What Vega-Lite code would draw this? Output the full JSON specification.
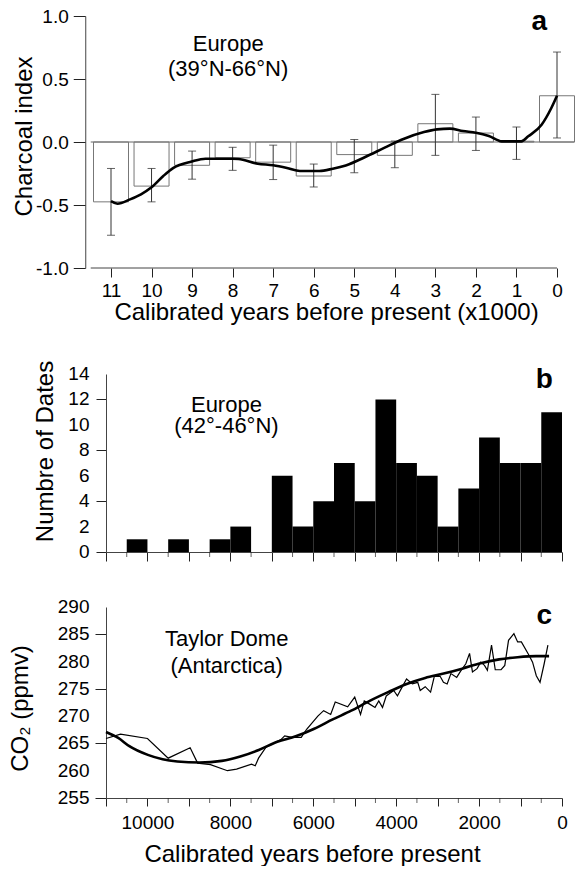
{
  "$schema": "https://vega.github.io/schema/vega-lite/v6.json",
  "padding": {"left": 8, "top": 7, "right": 0, "bottom": 0},
  "spacing": 36,
  "config": {
    "view": {"stroke": null},
    "font": "Liberation Sans",
    "axis": {
      "grid": false,
      "labelFontSize": 19,
      "titleFontSize": 24,
      "titleFontWeight": "normal",
      "labelColor": "#000",
      "titleColor": "#000",
      "domainColor": "#444",
      "tickColor": "#222"
    },
    "text": {"font": "Liberation Sans", "color": "#000"}
  },
  "vconcat": [
    {
      "width": 456,
      "height": 252,
      "layer": [
        {
          "data": {"values": [{"x": 11.5, "x2": -0.43, "y": 0}]},
          "mark": {"type": "rule", "color": "#666", "strokeWidth": 1},
          "encoding": {
            "x": {
              "field": "x", "type": "quantitative",
              "title": "Calibrated years before present (x1000)",
              "scale": {"domain": [0, 11], "reverse": true, "nice": false, "zero": false},
              "axis": {
                "values": [0, 1, 2, 3, 4, 5, 6, 7, 8, 9, 10, 11],
                "format": "d", "domain": false, "tickSize": 9, "labelPadding": 4,
                "labelOverlap": false, "labelFlush": false,
                "titleX": 220, "titleY": 51, "titleBaseline": "alphabetic", "titleAlign": "center"
              }
            },
            "x2": {"field": "x2"},
            "y": {
              "field": "y", "type": "quantitative",
              "title": "Charcoal index",
              "scale": {"domain": [-1, 1], "nice": false, "zero": false},
              "axis": {
                "values": [-1, -0.5, 0, 0.5, 1],
                "labelExpr": "datum.value < 0 ? '-' + format(-datum.value, '.1f') : format(datum.value, '.1f')",
                "offset": 20.75, "tickSize": 12, "labelPadding": 5,
                "labelOverlap": false, "labelFlush": false,
                "titleX": -54, "titleY": 120,
                "titleAngle": 270, "titleBaseline": "alphabetic", "titleAlign": "center"
              }
            }
          }
        },
        {
          "data": {"values": [{"x": 11.5, "x2": 0, "y": -1}]},
          "mark": {"type": "rule", "color": "#444", "strokeWidth": 1},
          "encoding": {
            "x": {"field": "x", "type": "quantitative", "title": "Calibrated years before present (x1000)"},
            "x2": {"field": "x2"},
            "y": {"field": "y", "type": "quantitative", "title": "Charcoal index"}
          }
        },
        {
          "data": {"values": [
            {"x": 11, "y": -0.475, "lo": -0.74, "hi": -0.21},
            {"x": 10, "y": -0.35, "lo": -0.475, "hi": -0.21},
            {"x": 9, "y": -0.185, "lo": -0.295, "hi": -0.072},
            {"x": 8, "y": -0.125, "lo": -0.225, "hi": -0.042},
            {"x": 7, "y": -0.16, "lo": -0.298, "hi": -0.025},
            {"x": 6, "y": -0.27, "lo": -0.357, "hi": -0.175},
            {"x": 5, "y": -0.1, "lo": -0.244, "hi": 0.02},
            {"x": 4, "y": -0.106, "lo": -0.204, "hi": 0.008},
            {"x": 3, "y": 0.145, "lo": -0.106, "hi": 0.378},
            {"x": 2, "y": 0.071, "lo": -0.067, "hi": 0.198},
            {"x": 1, "y": 0.006, "lo": -0.138, "hi": 0.119},
            {"x": 0, "y": 0.367, "lo": 0.032, "hi": 0.714}
          ]},
          "layer": [
            {
              "mark": {"type": "bar", "width": 35, "fillOpacity": 0, "stroke": "#777", "strokeWidth": 1},
              "encoding": {
                "x": {"field": "x", "type": "quantitative", "title": "Calibrated years before present (x1000)"},
                "y": {"field": "y", "type": "quantitative", "title": "Charcoal index"},
                "y2": {"datum": 0}
              }
            },
            {
              "mark": {"type": "errorbar", "ticks": {"size": 8, "color": "#222"}, "rule": {"color": "#333"}},
              "encoding": {
                "x": {"field": "x", "type": "quantitative", "title": "Calibrated years before present (x1000)"},
                "y": {"field": "lo", "type": "quantitative", "title": "Charcoal index"},
                "y2": {"field": "hi"}
              }
            }
          ]
        },
        {
          "data": {"values": [
            {"x": 11.0, "y": -0.47}, {"x": 10.84, "y": -0.49}, {"x": 10.53, "y": -0.455},
            {"x": 10.26, "y": -0.415}, {"x": 10.0, "y": -0.36}, {"x": 9.71, "y": -0.27},
            {"x": 9.46, "y": -0.205}, {"x": 9.01, "y": -0.155}, {"x": 8.67, "y": -0.133},
            {"x": 8.0, "y": -0.133}, {"x": 7.86, "y": -0.135}, {"x": 7.38, "y": -0.172},
            {"x": 7.0, "y": -0.185}, {"x": 6.66, "y": -0.206}, {"x": 6.34, "y": -0.23},
            {"x": 5.86, "y": -0.23}, {"x": 5.53, "y": -0.212}, {"x": 5.21, "y": -0.186},
            {"x": 4.73, "y": -0.119}, {"x": 4.25, "y": -0.045}, {"x": 3.77, "y": 0.026},
            {"x": 3.28, "y": 0.079}, {"x": 2.96, "y": 0.1}, {"x": 2.64, "y": 0.106},
            {"x": 2.32, "y": 0.087}, {"x": 2.0, "y": 0.074}, {"x": 1.68, "y": 0.048},
            {"x": 1.36, "y": 0.005}, {"x": 0.88, "y": 0.005}, {"x": 0.71, "y": 0.045},
            {"x": 0.38, "y": 0.137}, {"x": 0.14, "y": 0.27}, {"x": 0.0, "y": 0.367}
          ]},
          "mark": {"type": "line", "color": "#000", "strokeWidth": 2.6, "interpolate": "monotone"},
          "encoding": {
            "x": {"field": "x", "type": "quantitative", "title": "Calibrated years before present (x1000)"},
            "y": {"field": "y", "type": "quantitative", "title": "Charcoal index"}
          }
        },
        {
          "data": {"values": [
            {"x": 8.11, "y": 0.725, "label": "Europe"},
            {"x": 8.11, "y": 0.52, "label": "(39°N-66°N)"}
          ]},
          "mark": {"type": "text", "fontSize": 22, "align": "center", "baseline": "alphabetic"},
          "encoding": {
            "x": {"field": "x", "type": "quantitative", "title": "Calibrated years before present (x1000)"},
            "y": {"field": "y", "type": "quantitative", "title": "Charcoal index"},
            "text": {"field": "label"}
          }
        },
        {
          "data": {"values": [{"x": 0.44, "y": 0.886, "label": "a"}]},
          "mark": {"type": "text", "fontSize": 28, "fontWeight": "bold", "align": "center", "baseline": "alphabetic"},
          "encoding": {
            "x": {"field": "x", "type": "quantitative", "title": "Calibrated years before present (x1000)"},
            "y": {"field": "y", "type": "quantitative", "title": "Charcoal index"},
            "text": {"field": "label"}
          }
        }
      ]
    },
    {
      "width": 456,
      "height": 178,
      "layer": [
        {
          "data": {"values": [
            {"start": 10500, "end": 10000, "n": 1},
            {"start": 9500, "end": 9000, "n": 1},
            {"start": 8500, "end": 8000, "n": 1},
            {"start": 8000, "end": 7500, "n": 2},
            {"start": 7000, "end": 6500, "n": 6},
            {"start": 6500, "end": 6000, "n": 2},
            {"start": 6000, "end": 5500, "n": 4},
            {"start": 5500, "end": 5000, "n": 7},
            {"start": 5000, "end": 4500, "n": 4},
            {"start": 4500, "end": 4000, "n": 12},
            {"start": 4000, "end": 3500, "n": 7},
            {"start": 3500, "end": 3000, "n": 6},
            {"start": 3000, "end": 2500, "n": 2},
            {"start": 2500, "end": 2000, "n": 5},
            {"start": 2000, "end": 1500, "n": 9},
            {"start": 1500, "end": 1000, "n": 7},
            {"start": 1000, "end": 500, "n": 7},
            {"start": 500, "end": 0, "n": 11}
          ]},
          "mark": {"type": "bar", "color": "#000"},
          "encoding": {
            "x": {
              "field": "start", "type": "quantitative", "title": null,
              "scale": {"domain": [0, 11000], "reverse": true, "nice": false, "zero": false},
              "axis": {
                "values": [0, 1000, 2000, 3000, 4000, 5000, 6000, 7000, 8000, 9000, 10000, 11000],
                "labels": false, "tickSize": 9
              }
            },
            "x2": {"field": "end"},
            "y": {
              "field": "n", "type": "quantitative", "title": "Numbre of Dates",
              "scale": {"domain": [0, 14], "nice": false},
              "axis": {
                "values": [0, 2, 4, 6, 8, 10, 12, 14],
                "tickSize": 10, "labels": false,
                "titleX": -53.5, "titleY": 77,
                "titleAngle": 270, "titleBaseline": "alphabetic", "titleAlign": "center"
              }
            },
            "y2": {"datum": 0}
          }
        },
        {
          "data": {"values": [
            {"n": 0}, {"n": 2}, {"n": 4}, {"n": 6}, {"n": 8}, {"n": 10}, {"n": 12}, {"n": 14}
          ]},
          "mark": {"type": "text", "fontSize": 19, "align": "right", "baseline": "middle", "dx": -16.5},
          "encoding": {
            "x": {"datum": 11000, "type": "quantitative", "title": null},
            "y": {"field": "n", "type": "quantitative", "title": "Numbre of Dates"},
            "text": {"field": "n", "type": "quantitative", "format": "d"}
          }
        },
        {
          "data": {"values": [
            {"start": 500}, {"start": 1500}, {"start": 2500}, {"start": 3500}, {"start": 4500}, {"start": 5500},
            {"start": 6500}, {"start": 7500}, {"start": 8500}, {"start": 9500}, {"start": 10500}
          ]},
          "mark": {"type": "tick", "orient": "vertical", "size": 5, "thickness": 1, "color": "#222", "yOffset": 2.5},
          "encoding": {
            "x": {"field": "start", "type": "quantitative", "title": null},
            "y": {"datum": 0, "type": "quantitative", "title": "Numbre of Dates"}
          }
        },
        {
          "data": {"values": [
            {"start": 8095, "n": 11.03, "label": "Europe"},
            {"start": 8095, "n": 9.38, "label": "(42°-46°N)"}
          ]},
          "mark": {"type": "text", "fontSize": 22, "align": "center", "baseline": "alphabetic"},
          "encoding": {
            "x": {"field": "start", "type": "quantitative", "title": null},
            "y": {"field": "n", "type": "quantitative", "title": "Numbre of Dates"},
            "text": {"field": "label"}
          }
        },
        {
          "data": {"values": [{"start": 430, "n": 12.9, "label": "b"}]},
          "mark": {"type": "text", "fontSize": 28, "fontWeight": "bold", "align": "center", "baseline": "alphabetic"},
          "encoding": {
            "x": {"field": "start", "type": "quantitative", "title": null},
            "y": {"field": "n", "type": "quantitative", "title": "Numbre of Dates"},
            "text": {"field": "label"}
          }
        }
      ]
    },
    {
      "width": 456,
      "height": 191,
      "layer": [
        {
          "data": {"values": [
            {"year": 11000, "co2": 265.9}, {"year": 10650, "co2": 266.7}, {"year": 10000, "co2": 265.9},
            {"year": 9500, "co2": 262.3}, {"year": 8970, "co2": 264.2}, {"year": 8790, "co2": 261.4},
            {"year": 8480, "co2": 261.1}, {"year": 8070, "co2": 260.0}, {"year": 7850, "co2": 260.3},
            {"year": 7490, "co2": 261.2}, {"year": 7400, "co2": 260.9}, {"year": 7320, "co2": 262.3},
            {"year": 7140, "co2": 264.3}, {"year": 6780, "co2": 265.7}, {"year": 6690, "co2": 266.4},
            {"year": 6510, "co2": 266.1}, {"year": 6290, "co2": 266.1}, {"year": 6160, "co2": 267.6},
            {"year": 5890, "co2": 270.0}, {"year": 5750, "co2": 271.0}, {"year": 5580, "co2": 270.3},
            {"year": 5470, "co2": 272.6}, {"year": 5170, "co2": 271.7}, {"year": 5000, "co2": 273.5},
            {"year": 4860, "co2": 270.3}, {"year": 4770, "co2": 272.8}, {"year": 4640, "co2": 272.2},
            {"year": 4510, "co2": 271.6}, {"year": 4420, "co2": 272.8}, {"year": 4330, "co2": 271.6},
            {"year": 4240, "co2": 273.7}, {"year": 4060, "co2": 274.7}, {"year": 3970, "co2": 273.7},
            {"year": 3880, "co2": 275.0}, {"year": 3750, "co2": 276.8}, {"year": 3610, "co2": 275.9},
            {"year": 3480, "co2": 276.2}, {"year": 3420, "co2": 274.7}, {"year": 3300, "co2": 275.4},
            {"year": 3170, "co2": 274.4}, {"year": 3080, "co2": 277.3}, {"year": 2940, "co2": 277.3},
            {"year": 2860, "co2": 276.2}, {"year": 2770, "co2": 275.9}, {"year": 2680, "co2": 277.8},
            {"year": 2540, "co2": 277.1}, {"year": 2450, "co2": 278.2}, {"year": 2320, "co2": 279.6},
            {"year": 2230, "co2": 281.5}, {"year": 2160, "co2": 278.1}, {"year": 2050, "co2": 278.7},
            {"year": 1960, "co2": 279.9}, {"year": 1870, "co2": 279.3}, {"year": 1800, "co2": 278.4},
            {"year": 1700, "co2": 283.0}, {"year": 1610, "co2": 278.5}, {"year": 1470, "co2": 278.5},
            {"year": 1380, "co2": 279.3}, {"year": 1290, "co2": 283.9}, {"year": 1160, "co2": 285.1},
            {"year": 1070, "co2": 283.6}, {"year": 980, "co2": 283.6}, {"year": 800, "co2": 281.2},
            {"year": 710, "co2": 279.9}, {"year": 620, "co2": 277.4}, {"year": 530, "co2": 276.2},
            {"year": 430, "co2": 279.6}, {"year": 340, "co2": 283.0}
          ]},
          "mark": {"type": "line", "color": "#000", "strokeWidth": 1.2},
          "encoding": {
            "x": {
              "field": "year", "type": "quantitative", "title": "Calibrated years before present",
              "scale": {"domain": [0, 11000], "reverse": true, "nice": false, "zero": false},
              "axis": {
                "values": [0, 1000, 2000, 3000, 4000, 5000, 6000, 7000, 8000, 9000, 10000, 11000],
                "labelExpr": "datum.value % 2000 === 0 ? format(datum.value, 'd') : ''",
                "tickSize": 8, "labelPadding": 7,
                "labelOverlap": false, "labelFlush": false,
                "titleX": 206, "titleY": 63, "titleBaseline": "alphabetic", "titleAlign": "center"
              }
            },
            "y": {
              "field": "co2", "type": "quantitative", "title": "CO₂ (ppmv)",
              "scale": {"domain": [255, 290], "nice": false, "zero": false},
              "axis": {
                "values": [255, 260, 265, 270, 275, 280, 285, 290],
                "tickSize": 11, "labels": false,
                "titleX": -78.5, "titleY": 101,
                "titleAngle": 270, "titleBaseline": "alphabetic", "titleAlign": "center"
              }
            }
          }
        },
        {
          "data": {"values": [
            {"year": 11000, "co2": 267.1}, {"year": 10705, "co2": 266.0}, {"year": 10437, "co2": 264.5},
            {"year": 9991, "co2": 262.9}, {"year": 9634, "co2": 262.1}, {"year": 9278, "co2": 261.7},
            {"year": 8742, "co2": 261.5}, {"year": 8207, "co2": 261.8}, {"year": 7761, "co2": 262.6},
            {"year": 7315, "co2": 263.8}, {"year": 6869, "co2": 265.3}, {"year": 6423, "co2": 266.3},
            {"year": 5977, "co2": 267.7}, {"year": 5531, "co2": 269.4}, {"year": 5085, "co2": 271.0},
            {"year": 4639, "co2": 272.8}, {"year": 4193, "co2": 274.4}, {"year": 3747, "co2": 275.9},
            {"year": 3301, "co2": 277.0}, {"year": 2855, "co2": 277.8}, {"year": 2409, "co2": 278.7},
            {"year": 1963, "co2": 279.7}, {"year": 1517, "co2": 280.4}, {"year": 1071, "co2": 280.8},
            {"year": 625, "co2": 281.0}, {"year": 312, "co2": 281.0}
          ]},
          "mark": {"type": "line", "color": "#000", "strokeWidth": 2.6, "interpolate": "monotone"},
          "encoding": {
            "x": {"field": "year", "type": "quantitative", "title": "Calibrated years before present"},
            "y": {"field": "co2", "type": "quantitative", "title": "CO₂ (ppmv)"}
          }
        },
        {
          "data": {"values": [
            {"co2": 255}, {"co2": 260}, {"co2": 265}, {"co2": 270}, {"co2": 275}, {"co2": 280}, {"co2": 285}, {"co2": 290}
          ]},
          "mark": {"type": "text", "fontSize": 19, "align": "right", "baseline": "middle", "dx": -16.5},
          "encoding": {
            "x": {"datum": 11000, "type": "quantitative", "title": "Calibrated years before present"},
            "y": {"field": "co2", "type": "quantitative", "title": "CO₂ (ppmv)"},
            "text": {"field": "co2", "type": "quantitative", "format": "d"}
          }
        },
        {
          "data": {"values": [
            {"year": 500}, {"year": 1500}, {"year": 2500}, {"year": 3500}, {"year": 4500}, {"year": 5500},
            {"year": 6500}, {"year": 7500}, {"year": 8500}, {"year": 9500}, {"year": 10500}
          ]},
          "mark": {"type": "tick", "orient": "vertical", "size": 5, "thickness": 1, "color": "#222", "yOffset": 2.5},
          "encoding": {
            "x": {"field": "year", "type": "quantitative", "title": "Calibrated years before present"},
            "y": {"datum": 255, "type": "quantitative", "title": "CO₂ (ppmv)"}
          }
        },
        {
          "data": {"values": [
            {"year": 8090, "co2": 282.84, "label": "Taylor Dome"},
            {"year": 8090, "co2": 277.9, "label": "(Antarctica)"}
          ]},
          "mark": {"type": "text", "fontSize": 22, "align": "center", "baseline": "alphabetic"},
          "encoding": {
            "x": {"field": "year", "type": "quantitative", "title": "Calibrated years before present"},
            "y": {"field": "co2", "type": "quantitative", "title": "CO₂ (ppmv)"},
            "text": {"field": "label"}
          }
        },
        {
          "data": {"values": [{"year": 430, "co2": 286.8, "label": "c"}]},
          "mark": {"type": "text", "fontSize": 28, "fontWeight": "bold", "align": "center", "baseline": "alphabetic"},
          "encoding": {
            "x": {"field": "year", "type": "quantitative", "title": "Calibrated years before present"},
            "y": {"field": "co2", "type": "quantitative", "title": "CO₂ (ppmv)"},
            "text": {"field": "label"}
          }
        }
      ]
    }
  ]
}
